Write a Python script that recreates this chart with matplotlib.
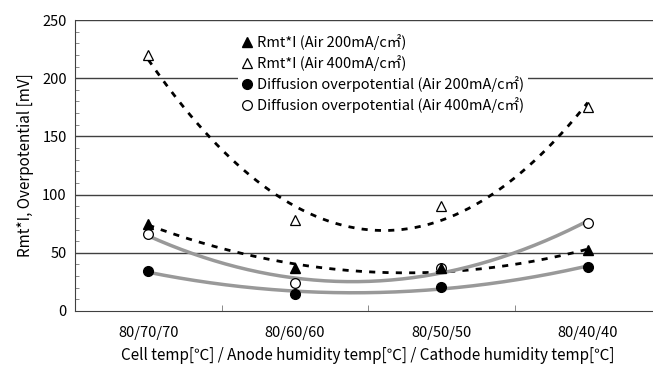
import numpy as np
import matplotlib.pyplot as plt
from matplotlib.ticker import MultipleLocator, FixedLocator, FixedFormatter

plt.rcParams['font.family'] = ['Liberation Sans Narrow', 'Noto Sans CJK JP', 'DejaVu Sans']

# conditions: cell temp / anode humidity temp / cathode humidity temp
conditions = ['80/70/70', '80/60/60', '80/50/50', '80/40/40']
rmt_200 = [75, 37, 37, 52]
rmt_400 = [220, 78, 90, 175]
diff_200 = [34, 15, 21, 38]
diff_400 = [66, 24, 37, 76]

x = np.arange(1, len(conditions) + 1)
xs = np.linspace(1, len(conditions), 200)


def trend(y):
    # 2nd order polynomial trend line
    p = np.polyfit(x, y, 2)
    return np.polyval(p, xs)


fig = plt.figure(figsize=(6.53, 3.65), dpi=100)
ax = fig.add_axes([75 / 653, 54 / 365, 586 / 653, 291 / 365])

for v in [50, 100, 150, 200, 250]:
    ax.axhline(v, color='#404040', lw=1.0, zorder=1)

ax.plot(xs, trend(rmt_400), color='black', lw=2, ls=(0, (2.2, 2.6)), zorder=2)
ax.plot(xs, trend(rmt_200), color='black', lw=2, ls=(0, (2.2, 2.6)), zorder=2)
ax.plot(xs, trend(diff_400), color='#999999', lw=2.5, zorder=2)
ax.plot(xs, trend(diff_200), color='#999999', lw=2.5, zorder=2)

h1, = ax.plot(x, rmt_200, ls='none', marker='^', ms=7.5, mfc='black', mec='black', zorder=4,
              label='Rmt*I (Air 200mA/c㎡)')
h2, = ax.plot(x, rmt_400, ls='none', marker='^', ms=7, mfc='white', mec='black', mew=0.9, zorder=4,
              label='Rmt*I (Air 400mA/c㎡)')
h3, = ax.plot(x, diff_200, ls='none', marker='o', ms=7, mfc='black', mec='black', zorder=3,
              label='Diffusion overpotential (Air 200mA/c㎡)')
h4, = ax.plot(x, diff_400, ls='none', marker='o', ms=7, mfc='white', mec='black', mew=0.9, zorder=3,
              label='Diffusion overpotential (Air 400mA/c㎡)')

ax.set_xlim(0.5, len(conditions) + 0.5)
ax.set_ylim(0, 250)
ax.yaxis.set_major_locator(MultipleLocator(50))
ax.yaxis.set_minor_locator(MultipleLocator(10))
ax.tick_params(axis='y', which='major', length=0, labelsize=10.5, pad=6)
ax.tick_params(axis='y', which='minor', direction='in', length=3, color='#777777')

# category labels centred, ticks on the category boundaries
ax.xaxis.set_major_locator(FixedLocator(x))
ax.xaxis.set_major_formatter(FixedFormatter(conditions))
ax.xaxis.set_minor_locator(FixedLocator(x[:-1] + 0.5))
ax.tick_params(axis='x', which='major', length=0, labelsize=10.5, pad=11)
ax.tick_params(axis='x', which='minor', direction='in', length=4, color='#777777')

for s in ['top', 'right']:
    ax.spines[s].set_visible(False)
ax.spines['left'].set_color('#404040')
ax.spines['bottom'].set_color('#404040')

ax.set_ylabel('Rmt*I, Overpotential [mV]', fontsize=11, labelpad=6)
ax.set_xlabel('Cell temp[℃] / Anode humidity temp[℃] / Cathode humidity temp[℃]', fontsize=11, labelpad=5)

leg = fig.legend(handles=[h1, h2, h3, h4], loc='upper left', bbox_to_anchor=(238 / 653, 1 - 30 / 365),
                 frameon=True, fontsize=10.5, handlelength=0.7, handletextpad=0.3,
                 labelspacing=0.35, borderpad=0.3, borderaxespad=0)
leg.get_frame().set_edgecolor('none')
leg.get_frame().set_facecolor('white')
leg.get_frame().set_alpha(1)

fig.savefig('out.png', dpi=100)
